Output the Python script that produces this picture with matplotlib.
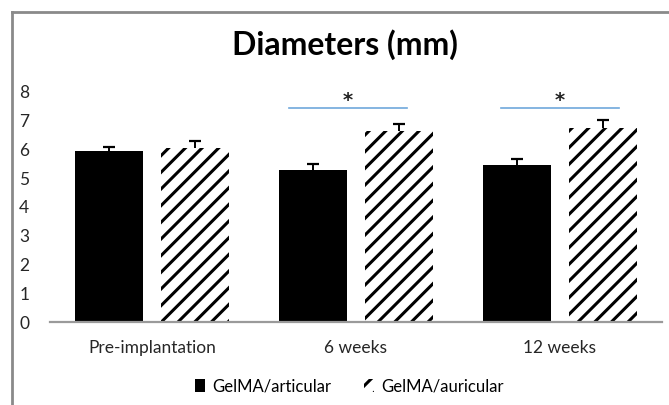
import matplotlib
matplotlib.use("Agg")
import matplotlib.pyplot as plt
import numpy as np
from matplotlib.lines import Line2D
from matplotlib.patches import Patch

plt.rcParams['font.family'] = ['Lato', 'DejaVu Sans']
plt.rcParams['hatch.linewidth'] = 2.2

# diameters per time point
groups = ['Pre-implantation', '6 weeks', '12 weeks']
articular = [5.95, 5.28, 5.46]
articular_err = [0.12, 0.23, 0.20]
auricular = [6.05, 6.65, 6.73]
auricular_err = [0.25, 0.24, 0.30]

# significance bars: (start, end, height, star x)
sig_start = [0.67, 1.71]
sig_end = [1.25, 2.29]
sig_y = [7.43, 7.43]
sig_star = [0.96, 2.0]

fig = plt.figure(figsize=(6.69, 4.05), dpi=100)
ax = fig.add_axes([0.0747, 0.2049, 0.9148, 0.568])

x = np.arange(len(groups))
w = 0.334
off = 0.211

ax.bar(x - off, articular, w, color='black', label='GelMA/articular')
ax.bar(x + off, auricular, w, color='white', edgecolor='black', linewidth=0,
       hatch='//', label='GelMA/auricular')

# upper error bars only
for xs, vals, errs in [(x - off, articular, articular_err),
                       (x + off, auricular, auricular_err)]:
    tops = np.array(vals) + np.array(errs)
    ax.vlines(xs, vals, tops, color='black', lw=1.4)
    ax.plot(xs, tops, ls='none', marker='_', ms=8, mew=1.6, color='black')

for s, e, y, sx in zip(sig_start, sig_end, sig_y, sig_star):
    ax.plot([s, e], [y, y], color='#6fa8dc', lw=1.2)
    ax.text(sx, y + 0.28, '*', ha='center', va='center', fontsize=14,
            fontweight='bold', color='#222222', family='DejaVu Sans')

ax.set_xlim(-0.5, 2.5)
ax.set_ylim(0, 8)
ax.set_yticks(range(0, 9))
ax.set_xticks(x)
ax.set_xticklabels(groups)
ax.tick_params(axis='both', length=0, labelsize=12.5, colors='#262626')
ax.tick_params(axis='y', pad=15)
ax.tick_params(axis='x', pad=13)
for side in ['top', 'right', 'left']:
    ax.spines[side].set_visible(False)
ax.spines['bottom'].set_color('#9a9a9a')
ax.spines['bottom'].set_linewidth(1.6)

fig.text(0.516, 0.889, 'Diameters (mm)', ha='center', va='center',
         fontsize=23, fontweight='bold')

handles = [Patch(facecolor='black', edgecolor='black', linewidth=0),
           Patch(facecolor='white', edgecolor='black', linewidth=0, hatch='//')]
fig.legend(handles, ['GelMA/articular', 'GelMA/auricular'], loc='center',
           bbox_to_anchor=(0.522, 0.046), ncol=2, frameon=False, fontsize=12,
           handlelength=0.6, handleheight=0.8, handletextpad=0.4,
           columnspacing=2.0)

# frame edges of the chart area
fig.add_artist(Line2D([12 / 669, 12 / 669], [0, 1 - 12 / 405], color='#8a8a8a',
                      lw=2, transform=fig.transFigure))
fig.add_artist(Line2D([12 / 669, 1], [1 - 12 / 405, 1 - 12 / 405], color='#8a8a8a',
                      lw=2, transform=fig.transFigure))

fig.savefig('out.png', dpi=100)
